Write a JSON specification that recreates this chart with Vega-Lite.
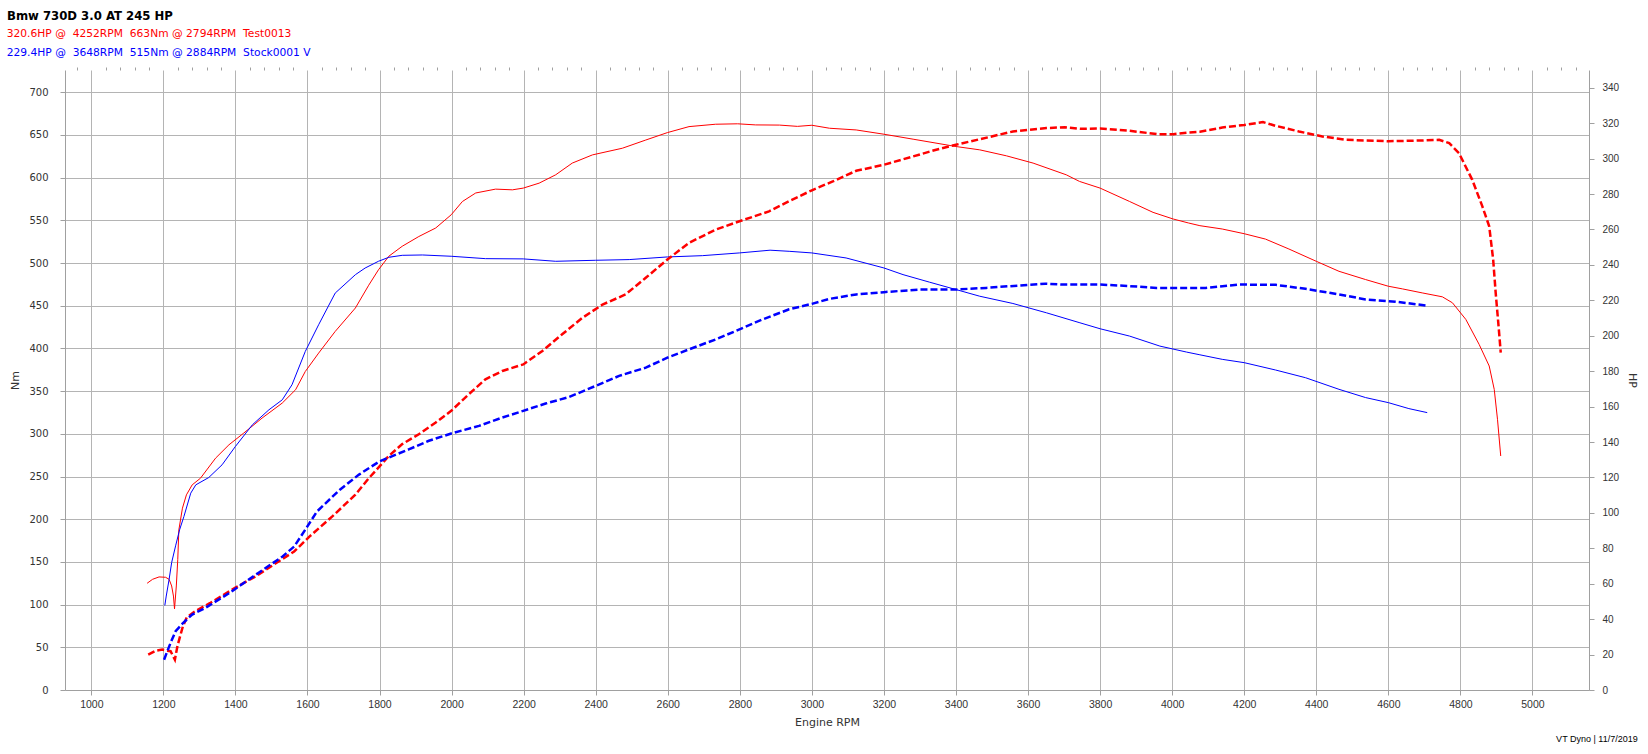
{
  "$schema": "https://vega.github.io/schema/vega-lite/v6.json",
  "width": 1524,
  "height": 620,
  "autosize": "none",
  "padding": {"left": 65, "top": 70, "right": 59, "bottom": 64},
  "background": "#ffffff",
  "config": {
    "view": {"stroke": null},
    "axis": {"domainColor": "#a0a0a0", "tickColor": "#a0a0a0", "gridColor": "#b4b4b4", "gridWidth": 1, "tickSize": 5, "labelColor": "#333333", "titleColor": "#333333", "titleFontWeight": "normal", "labelOverlap": false, "labelFlush": false}
  },
  "title": {"text": "VT Dyno | 11/7/2019", "orient": "bottom", "anchor": "end", "frame": "bounds", "fontSize": 9, "font": "Liberation Sans", "fontWeight": "normal", "color": "#000000", "offset": 7},
  "datasets": {
    "torque": [
      {"rpm": 1155, "nm": 125, "run": "Test0013"},
      {"rpm": 1170, "nm": 129.6, "run": "Test0013"},
      {"rpm": 1188, "nm": 132.4, "run": "Test0013"},
      {"rpm": 1206, "nm": 132, "run": "Test0013"},
      {"rpm": 1216, "nm": 129.6, "run": "Test0013"},
      {"rpm": 1223, "nm": 121.8, "run": "Test0013"},
      {"rpm": 1228, "nm": 110, "run": "Test0013"},
      {"rpm": 1231, "nm": 95, "run": "Test0013"},
      {"rpm": 1236, "nm": 121.8, "run": "Test0013"},
      {"rpm": 1240, "nm": 153, "run": "Test0013"},
      {"rpm": 1243, "nm": 187.5, "run": "Test0013"},
      {"rpm": 1253, "nm": 212.9, "run": "Test0013"},
      {"rpm": 1264, "nm": 228.5, "run": "Test0013"},
      {"rpm": 1280, "nm": 240.2, "run": "Test0013"},
      {"rpm": 1303, "nm": 248, "run": "Test0013"},
      {"rpm": 1345, "nm": 271.5, "run": "Test0013"},
      {"rpm": 1382, "nm": 287.1, "run": "Test0013"},
      {"rpm": 1423, "nm": 300.8, "run": "Test0013"},
      {"rpm": 1474, "nm": 318.4, "run": "Test0013"},
      {"rpm": 1530, "nm": 336, "run": "Test0013"},
      {"rpm": 1567, "nm": 351.6, "run": "Test0013"},
      {"rpm": 1594, "nm": 373, "run": "Test0013"},
      {"rpm": 1631, "nm": 394.5, "run": "Test0013"},
      {"rpm": 1677, "nm": 419.9, "run": "Test0013"},
      {"rpm": 1733, "nm": 447.3, "run": "Test0013"},
      {"rpm": 1770, "nm": 474, "run": "Test0013"},
      {"rpm": 1797, "nm": 492, "run": "Test0013"},
      {"rpm": 1826, "nm": 508, "run": "Test0013"},
      {"rpm": 1863, "nm": 519.6, "run": "Test0013"},
      {"rpm": 1909, "nm": 531, "run": "Test0013"},
      {"rpm": 1956, "nm": 541, "run": "Test0013"},
      {"rpm": 1999, "nm": 556.5, "run": "Test0013"},
      {"rpm": 2030, "nm": 572, "run": "Test0013"},
      {"rpm": 2067, "nm": 582, "run": "Test0013"},
      {"rpm": 2122, "nm": 586.5, "run": "Test0013"},
      {"rpm": 2169, "nm": 585.7, "run": "Test0013"},
      {"rpm": 2199, "nm": 587.7, "run": "Test0013"},
      {"rpm": 2243, "nm": 593.5, "run": "Test0013"},
      {"rpm": 2289, "nm": 603.3, "run": "Test0013"},
      {"rpm": 2335, "nm": 617, "run": "Test0013"},
      {"rpm": 2391, "nm": 626.6, "run": "Test0013"},
      {"rpm": 2474, "nm": 634.4, "run": "Test0013"},
      {"rpm": 2539, "nm": 644, "run": "Test0013"},
      {"rpm": 2599, "nm": 652.7, "run": "Test0013"},
      {"rpm": 2659, "nm": 659.7, "run": "Test0013"},
      {"rpm": 2733, "nm": 662.5, "run": "Test0013"},
      {"rpm": 2794, "nm": 663, "run": "Test0013"},
      {"rpm": 2844, "nm": 661.7, "run": "Test0013"},
      {"rpm": 2910, "nm": 661.5, "run": "Test0013"},
      {"rpm": 2960, "nm": 660, "run": "Test0013"},
      {"rpm": 3000, "nm": 661.3, "run": "Test0013"},
      {"rpm": 3049, "nm": 657.8, "run": "Test0013"},
      {"rpm": 3123, "nm": 655.8, "run": "Test0013"},
      {"rpm": 3200, "nm": 650.8, "run": "Test0013"},
      {"rpm": 3281, "nm": 645, "run": "Test0013"},
      {"rpm": 3400, "nm": 636.4, "run": "Test0013"},
      {"rpm": 3466, "nm": 632.5, "run": "Test0013"},
      {"rpm": 3540, "nm": 625.5, "run": "Test0013"},
      {"rpm": 3614, "nm": 617, "run": "Test0013"},
      {"rpm": 3706, "nm": 603.3, "run": "Test0013"},
      {"rpm": 3743, "nm": 595.5, "run": "Test0013"},
      {"rpm": 3800, "nm": 587.7, "run": "Test0013"},
      {"rpm": 3882, "nm": 572, "run": "Test0013"},
      {"rpm": 3947, "nm": 559.3, "run": "Test0013"},
      {"rpm": 4003, "nm": 551.5, "run": "Test0013"},
      {"rpm": 4046, "nm": 546.8, "run": "Test0013"},
      {"rpm": 4077, "nm": 543.7, "run": "Test0013"},
      {"rpm": 4139, "nm": 539.8, "run": "Test0013"},
      {"rpm": 4200, "nm": 534.3, "run": "Test0013"},
      {"rpm": 4259, "nm": 528, "run": "Test0013"},
      {"rpm": 4324, "nm": 516.4, "run": "Test0013"},
      {"rpm": 4400, "nm": 502, "run": "Test0013"},
      {"rpm": 4463, "nm": 490.3, "run": "Test0013"},
      {"rpm": 4537, "nm": 480.6, "run": "Test0013"},
      {"rpm": 4600, "nm": 472.8, "run": "Test0013"},
      {"rpm": 4639, "nm": 469.7, "run": "Test0013"},
      {"rpm": 4694, "nm": 465, "run": "Test0013"},
      {"rpm": 4750, "nm": 460.4, "run": "Test0013"},
      {"rpm": 4778, "nm": 453.4, "run": "Test0013"},
      {"rpm": 4815, "nm": 434, "run": "Test0013"},
      {"rpm": 4852, "nm": 404.7, "run": "Test0013"},
      {"rpm": 4880, "nm": 379.4, "run": "Test0013"},
      {"rpm": 4894, "nm": 352, "run": "Test0013"},
      {"rpm": 4903, "nm": 317, "run": "Test0013"},
      {"rpm": 4912, "nm": 274, "run": "Test0013"},
      {"rpm": 1204, "nm": 99, "run": "Stock0001 V"},
      {"rpm": 1208, "nm": 110, "run": "Stock0001 V"},
      {"rpm": 1216, "nm": 129.6, "run": "Stock0001 V"},
      {"rpm": 1223, "nm": 149.2, "run": "Stock0001 V"},
      {"rpm": 1234, "nm": 168.8, "run": "Stock0001 V"},
      {"rpm": 1245, "nm": 187.5, "run": "Stock0001 V"},
      {"rpm": 1257, "nm": 203.1, "run": "Stock0001 V"},
      {"rpm": 1276, "nm": 230.5, "run": "Stock0001 V"},
      {"rpm": 1290, "nm": 240.2, "run": "Stock0001 V"},
      {"rpm": 1326, "nm": 248.8, "run": "Stock0001 V"},
      {"rpm": 1363, "nm": 263.7, "run": "Stock0001 V"},
      {"rpm": 1400, "nm": 285.2, "run": "Stock0001 V"},
      {"rpm": 1447, "nm": 310.5, "run": "Stock0001 V"},
      {"rpm": 1493, "nm": 328.1, "run": "Stock0001 V"},
      {"rpm": 1530, "nm": 339.8, "run": "Stock0001 V"},
      {"rpm": 1557, "nm": 357.4, "run": "Stock0001 V"},
      {"rpm": 1594, "nm": 396.5, "run": "Stock0001 V"},
      {"rpm": 1631, "nm": 427.7, "run": "Stock0001 V"},
      {"rpm": 1677, "nm": 464.8, "run": "Stock0001 V"},
      {"rpm": 1733, "nm": 486.3, "run": "Stock0001 V"},
      {"rpm": 1760, "nm": 494.1, "run": "Stock0001 V"},
      {"rpm": 1797, "nm": 502, "run": "Stock0001 V"},
      {"rpm": 1826, "nm": 506.7, "run": "Stock0001 V"},
      {"rpm": 1863, "nm": 509, "run": "Stock0001 V"},
      {"rpm": 1919, "nm": 509.4, "run": "Stock0001 V"},
      {"rpm": 1999, "nm": 507.9, "run": "Stock0001 V"},
      {"rpm": 2094, "nm": 505.1, "run": "Stock0001 V"},
      {"rpm": 2199, "nm": 504.8, "run": "Stock0001 V"},
      {"rpm": 2289, "nm": 502, "run": "Stock0001 V"},
      {"rpm": 2400, "nm": 503.2, "run": "Stock0001 V"},
      {"rpm": 2493, "nm": 504, "run": "Stock0001 V"},
      {"rpm": 2599, "nm": 507.1, "run": "Stock0001 V"},
      {"rpm": 2696, "nm": 508.6, "run": "Stock0001 V"},
      {"rpm": 2799, "nm": 511.8, "run": "Stock0001 V"},
      {"rpm": 2884, "nm": 515, "run": "Stock0001 V"},
      {"rpm": 2937, "nm": 513.7, "run": "Stock0001 V"},
      {"rpm": 3000, "nm": 511.8, "run": "Stock0001 V"},
      {"rpm": 3095, "nm": 505.9, "run": "Stock0001 V"},
      {"rpm": 3200, "nm": 494.2, "run": "Stock0001 V"},
      {"rpm": 3253, "nm": 486.4, "run": "Stock0001 V"},
      {"rpm": 3327, "nm": 477.5, "run": "Stock0001 V"},
      {"rpm": 3400, "nm": 468.9, "run": "Stock0001 V"},
      {"rpm": 3466, "nm": 461.1, "run": "Stock0001 V"},
      {"rpm": 3558, "nm": 452.6, "run": "Stock0001 V"},
      {"rpm": 3651, "nm": 441.7, "run": "Stock0001 V"},
      {"rpm": 3744, "nm": 430, "run": "Stock0001 V"},
      {"rpm": 3800, "nm": 423, "run": "Stock0001 V"},
      {"rpm": 3882, "nm": 414.4, "run": "Stock0001 V"},
      {"rpm": 3966, "nm": 402.7, "run": "Stock0001 V"},
      {"rpm": 4040, "nm": 395.7, "run": "Stock0001 V"},
      {"rpm": 4077, "nm": 392.5, "run": "Stock0001 V"},
      {"rpm": 4139, "nm": 387.2, "run": "Stock0001 V"},
      {"rpm": 4200, "nm": 383.3, "run": "Stock0001 V"},
      {"rpm": 4287, "nm": 374.7, "run": "Stock0001 V"},
      {"rpm": 4370, "nm": 365.7, "run": "Stock0001 V"},
      {"rpm": 4463, "nm": 352.1, "run": "Stock0001 V"},
      {"rpm": 4537, "nm": 342.4, "run": "Stock0001 V"},
      {"rpm": 4600, "nm": 336.5, "run": "Stock0001 V"},
      {"rpm": 4657, "nm": 329.5, "run": "Stock0001 V"},
      {"rpm": 4708, "nm": 324.8, "run": "Stock0001 V"}
    ],
    "power": [
      {"rpm": 1158, "hp": 20.0, "run": "Test0013"},
      {"rpm": 1179, "hp": 22.2, "run": "Test0013"},
      {"rpm": 1197, "hp": 22.8, "run": "Test0013"},
      {"rpm": 1211, "hp": 22.2, "run": "Test0013"},
      {"rpm": 1220, "hp": 21.9, "run": "Test0013"},
      {"rpm": 1232, "hp": 17.1, "run": "Test0013"},
      {"rpm": 1239, "hp": 24.7, "run": "Test0013"},
      {"rpm": 1246, "hp": 30.0, "run": "Test0013"},
      {"rpm": 1254, "hp": 35.8, "run": "Test0013"},
      {"rpm": 1265, "hp": 41.0, "run": "Test0013"},
      {"rpm": 1286, "hp": 44.2, "run": "Test0013"},
      {"rpm": 1329, "hp": 49.0, "run": "Test0013"},
      {"rpm": 1400, "hp": 57.8, "run": "Test0013"},
      {"rpm": 1456, "hp": 64.1, "run": "Test0013"},
      {"rpm": 1520, "hp": 72.6, "run": "Test0013"},
      {"rpm": 1563, "hp": 78.2, "run": "Test0013"},
      {"rpm": 1606, "hp": 86.7, "run": "Test0013"},
      {"rpm": 1669, "hp": 98.0, "run": "Test0013"},
      {"rpm": 1733, "hp": 110.3, "run": "Test0013"},
      {"rpm": 1770, "hp": 119.5, "run": "Test0013"},
      {"rpm": 1800, "hp": 126.2, "run": "Test0013"},
      {"rpm": 1826, "hp": 132.2, "run": "Test0013"},
      {"rpm": 1863, "hp": 138.8, "run": "Test0013"},
      {"rpm": 1909, "hp": 144.4, "run": "Test0013"},
      {"rpm": 1956, "hp": 151.0, "run": "Test0013"},
      {"rpm": 1999, "hp": 157.6, "run": "Test0013"},
      {"rpm": 2048, "hp": 167.0, "run": "Test0013"},
      {"rpm": 2094, "hp": 175.4, "run": "Test0013"},
      {"rpm": 2141, "hp": 180.1, "run": "Test0013"},
      {"rpm": 2199, "hp": 183.8, "run": "Test0013"},
      {"rpm": 2252, "hp": 191.4, "run": "Test0013"},
      {"rpm": 2307, "hp": 200.8, "run": "Test0013"},
      {"rpm": 2363, "hp": 210.1, "run": "Test0013"},
      {"rpm": 2419, "hp": 217.6, "run": "Test0013"},
      {"rpm": 2483, "hp": 223.3, "run": "Test0013"},
      {"rpm": 2539, "hp": 232.7, "run": "Test0013"},
      {"rpm": 2599, "hp": 243.0, "run": "Test0013"},
      {"rpm": 2659, "hp": 252.4, "run": "Test0013"},
      {"rpm": 2733, "hp": 259.9, "run": "Test0013"},
      {"rpm": 2799, "hp": 264.6, "run": "Test0013"},
      {"rpm": 2881, "hp": 270.2, "run": "Test0013"},
      {"rpm": 2937, "hp": 276.0, "run": "Test0013"},
      {"rpm": 3000, "hp": 282.1, "run": "Test0013"},
      {"rpm": 3058, "hp": 287.1, "run": "Test0013"},
      {"rpm": 3123, "hp": 293.1, "run": "Test0013"},
      {"rpm": 3200, "hp": 296.5, "run": "Test0013"},
      {"rpm": 3281, "hp": 301.2, "run": "Test0013"},
      {"rpm": 3345, "hp": 305.0, "run": "Test0013"},
      {"rpm": 3400, "hp": 307.8, "run": "Test0013"},
      {"rpm": 3466, "hp": 310.9, "run": "Test0013"},
      {"rpm": 3558, "hp": 315.3, "run": "Test0013"},
      {"rpm": 3651, "hp": 317.2, "run": "Test0013"},
      {"rpm": 3702, "hp": 317.7, "run": "Test0013"},
      {"rpm": 3744, "hp": 316.8, "run": "Test0013"},
      {"rpm": 3800, "hp": 317.0, "run": "Test0013"},
      {"rpm": 3882, "hp": 315.7, "run": "Test0013"},
      {"rpm": 3957, "hp": 313.8, "run": "Test0013"},
      {"rpm": 4003, "hp": 313.8, "run": "Test0013"},
      {"rpm": 4046, "hp": 314.7, "run": "Test0013"},
      {"rpm": 4077, "hp": 315.1, "run": "Test0013"},
      {"rpm": 4139, "hp": 317.5, "run": "Test0013"},
      {"rpm": 4200, "hp": 319.0, "run": "Test0013"},
      {"rpm": 4252, "hp": 320.6, "run": "Test0013"},
      {"rpm": 4287, "hp": 318.5, "run": "Test0013"},
      {"rpm": 4352, "hp": 315.3, "run": "Test0013"},
      {"rpm": 4417, "hp": 312.5, "run": "Test0013"},
      {"rpm": 4481, "hp": 310.6, "run": "Test0013"},
      {"rpm": 4600, "hp": 309.8, "run": "Test0013"},
      {"rpm": 4694, "hp": 310.2, "run": "Test0013"},
      {"rpm": 4741, "hp": 310.6, "run": "Test0013"},
      {"rpm": 4769, "hp": 308.7, "run": "Test0013"},
      {"rpm": 4796, "hp": 303.1, "run": "Test0013"},
      {"rpm": 4833, "hp": 288.0, "run": "Test0013"},
      {"rpm": 4861, "hp": 273.0, "run": "Test0013"},
      {"rpm": 4880, "hp": 261.8, "run": "Test0013"},
      {"rpm": 4891, "hp": 243.0, "run": "Test0013"},
      {"rpm": 4898, "hp": 224.2, "run": "Test0013"},
      {"rpm": 4906, "hp": 205.4, "run": "Test0013"},
      {"rpm": 4912, "hp": 190.5, "run": "Test0013"},
      {"rpm": 1202, "hp": 17.1, "run": "Stock0001 V"},
      {"rpm": 1211, "hp": 21.9, "run": "Stock0001 V"},
      {"rpm": 1220, "hp": 26.6, "run": "Stock0001 V"},
      {"rpm": 1234, "hp": 33.2, "run": "Stock0001 V"},
      {"rpm": 1253, "hp": 37.5, "run": "Stock0001 V"},
      {"rpm": 1280, "hp": 42.6, "run": "Stock0001 V"},
      {"rpm": 1317, "hp": 46.4, "run": "Stock0001 V"},
      {"rpm": 1382, "hp": 54.6, "run": "Stock0001 V"},
      {"rpm": 1456, "hp": 65.0, "run": "Stock0001 V"},
      {"rpm": 1531, "hp": 75.4, "run": "Stock0001 V"},
      {"rpm": 1563, "hp": 81.0, "run": "Stock0001 V"},
      {"rpm": 1594, "hp": 90.5, "run": "Stock0001 V"},
      {"rpm": 1626, "hp": 100.7, "run": "Stock0001 V"},
      {"rpm": 1690, "hp": 113.1, "run": "Stock0001 V"},
      {"rpm": 1743, "hp": 121.6, "run": "Stock0001 V"},
      {"rpm": 1800, "hp": 129.1, "run": "Stock0001 V"},
      {"rpm": 1881, "hp": 135.8, "run": "Stock0001 V"},
      {"rpm": 1937, "hp": 140.7, "run": "Stock0001 V"},
      {"rpm": 1999, "hp": 144.8, "run": "Stock0001 V"},
      {"rpm": 2076, "hp": 149.1, "run": "Stock0001 V"},
      {"rpm": 2141, "hp": 153.8, "run": "Stock0001 V"},
      {"rpm": 2199, "hp": 157.6, "run": "Stock0001 V"},
      {"rpm": 2261, "hp": 161.7, "run": "Stock0001 V"},
      {"rpm": 2326, "hp": 165.4, "run": "Stock0001 V"},
      {"rpm": 2399, "hp": 171.6, "run": "Stock0001 V"},
      {"rpm": 2465, "hp": 177.3, "run": "Stock0001 V"},
      {"rpm": 2539, "hp": 182.0, "run": "Stock0001 V"},
      {"rpm": 2599, "hp": 187.6, "run": "Stock0001 V"},
      {"rpm": 2659, "hp": 192.3, "run": "Stock0001 V"},
      {"rpm": 2733, "hp": 197.9, "run": "Stock0001 V"},
      {"rpm": 2789, "hp": 202.7, "run": "Stock0001 V"},
      {"rpm": 2863, "hp": 209.2, "run": "Stock0001 V"},
      {"rpm": 2937, "hp": 214.9, "run": "Stock0001 V"},
      {"rpm": 3000, "hp": 218.0, "run": "Stock0001 V"},
      {"rpm": 3049, "hp": 220.8, "run": "Stock0001 V"},
      {"rpm": 3123, "hp": 223.3, "run": "Stock0001 V"},
      {"rpm": 3200, "hp": 224.6, "run": "Stock0001 V"},
      {"rpm": 3299, "hp": 226.1, "run": "Stock0001 V"},
      {"rpm": 3400, "hp": 226.1, "run": "Stock0001 V"},
      {"rpm": 3484, "hp": 227.0, "run": "Stock0001 V"},
      {"rpm": 3600, "hp": 228.7, "run": "Stock0001 V"},
      {"rpm": 3648, "hp": 229.4, "run": "Stock0001 V"},
      {"rpm": 3697, "hp": 228.9, "run": "Stock0001 V"},
      {"rpm": 3800, "hp": 228.9, "run": "Stock0001 V"},
      {"rpm": 3882, "hp": 228.0, "run": "Stock0001 V"},
      {"rpm": 3957, "hp": 227.0, "run": "Stock0001 V"},
      {"rpm": 4040, "hp": 227.0, "run": "Stock0001 V"},
      {"rpm": 4093, "hp": 227.0, "run": "Stock0001 V"},
      {"rpm": 4185, "hp": 228.9, "run": "Stock0001 V"},
      {"rpm": 4287, "hp": 228.7, "run": "Stock0001 V"},
      {"rpm": 4370, "hp": 226.5, "run": "Stock0001 V"},
      {"rpm": 4463, "hp": 223.3, "run": "Stock0001 V"},
      {"rpm": 4537, "hp": 220.5, "run": "Stock0001 V"},
      {"rpm": 4620, "hp": 219.2, "run": "Stock0001 V"},
      {"rpm": 4704, "hp": 217.1, "run": "Stock0001 V"}
    ]
  },
  "layer": [
    {
      "data": {"name": "torque"},
      "mark": {"type": "line", "strokeWidth": 1, "interpolate": "linear"},
      "encoding": {
        "x": {
          "field": "rpm", "type": "quantitative",
          "scale": {"domain": [927, 5157], "nice": false, "zero": false},
          "axis": {
            "values": [1000, 1200, 1400, 1600, 1800, 2000, 2200, 2400, 2600, 2800, 3000, 3200, 3400, 3600, 3800, 4000, 4200, 4400, 4600, 4800, 5000],
            "format": "d",
            "grid": true, "labelFont": "Liberation Sans", "labelFontSize": 10.5, "labelPadding": 4,
            "title": "Engine RPM", "titleFont": "DejaVu Sans", "titleFontSize": 11, "titlePadding": 7
          }
        },
        "y": {
          "field": "nm", "type": "quantitative",
          "scale": {"domain": [0, 726], "nice": false, "zero": true},
          "axis": {
            "orient": "left", "values": [0, 50, 100, 150, 200, 250, 300, 350, 400, 450, 500, 550, 600, 650, 700],
            "grid": true, "labelFont": "DejaVu Sans", "labelFontSize": 10, "labelPadding": 12,
            "title": "Nm", "titleFont": "DejaVu Sans", "titleFontSize": 11, "titlePadding": 8
          }
        },
        "color": {
          "field": "run", "type": "nominal",
          "scale": {"domain": ["Test0013", "Stock0001 V"], "range": ["#ff0000", "#0000ff"]},
          "legend": {
            "orient": "none", "legendX": -58, "legendY": -59, "direction": "vertical",
            "title": "Bmw 730D 3.0 AT 245 HP", "titleFont": "DejaVu Sans", "titleFontSize": 11.7, "titleFontWeight": "bold", "titleColor": "#000000", "titlePadding": 6,
            "labelFont": "DejaVu Sans", "labelFontSize": 10.7, "labelOffset": -11, "labelLimit": 0,
            "labelColor": {"expr": "datum.value == 'Test0013' ? '#ff0000' : '#0000ff'"},
            "labelExpr": "datum.value == 'Test0013' ? '320.6HP @\u00a0\u00a04252RPM\u00a0\u00a0663Nm @ 2794RPM\u00a0\u00a0Test0013' : '229.4HP @\u00a0\u00a03648RPM\u00a0\u00a0515Nm @ 2884RPM\u00a0\u00a0Stock0001 V'",
            "symbolSize": 0, "symbolOpacity": 0, "symbolStrokeWidth": 0, "rowPadding": 7, "padding": 0
          }
        }
      }
    },
    {
      "data": {"name": "power"},
      "mark": {"type": "line", "strokeWidth": 2.5, "strokeDash": [7, 3], "interpolate": "linear"},
      "encoding": {
        "x": {"field": "rpm", "type": "quantitative", "axis": null},
        "y": {
          "field": "hp", "type": "quantitative",
          "scale": {"domain": [0, 350], "nice": false, "zero": true},
          "axis": {
            "orient": "right", "values": [0, 20, 40, 60, 80, 100, 120, 140, 160, 180, 200, 220, 240, 260, 280, 300, 320, 340],
            "grid": false, "labelFont": "Liberation Sans", "labelFontSize": 10, "labelPadding": 8,
            "title": "HP", "titleFont": "DejaVu Sans", "titleFontSize": 11, "titlePadding": 8
          }
        },
        "color": {"field": "run", "type": "nominal"}
      }
    },
    {
      "data": {"name": "torque"},
      "mark": {"type": "point", "opacity": 0},
      "encoding": {
        "x": {
          "field": "rpm", "type": "quantitative",
          "axis": {
            "values": [960, 1040, 1080, 1120, 1160, 1240, 1280, 1320, 1360, 1440, 1480, 1520, 1560, 1640, 1680, 1720, 1760, 1840, 1880, 1920, 1960, 2040, 2080, 2120, 2160, 2240, 2280, 2320, 2360, 2440, 2480, 2520, 2560, 2640, 2680, 2720, 2760, 2840, 2880, 2920, 2960, 3040, 3080, 3120, 3160, 3240, 3280, 3320, 3360, 3440, 3480, 3520, 3560, 3640, 3680, 3720, 3760, 3840, 3880, 3920, 3960, 4040, 4080, 4120, 4160, 4240, 4280, 4320, 4360, 4440, 4480, 4520, 4560, 4640, 4680, 4720, 4760, 4840, 4880, 4920, 4960, 5040, 5080, 5120],
            "labels": false, "domain": false, "grid": false, "ticks": true, "tickSize": 3, "title": null
          }
        },
        "y": {"field": "nm", "type": "quantitative", "scale": {"domain": [0, 726], "nice": false}, "axis": null}
      }
    }
  ],
  "resolve": {"scale": {"y": "independent"}, "axis": {"x": "independent"}}
}
